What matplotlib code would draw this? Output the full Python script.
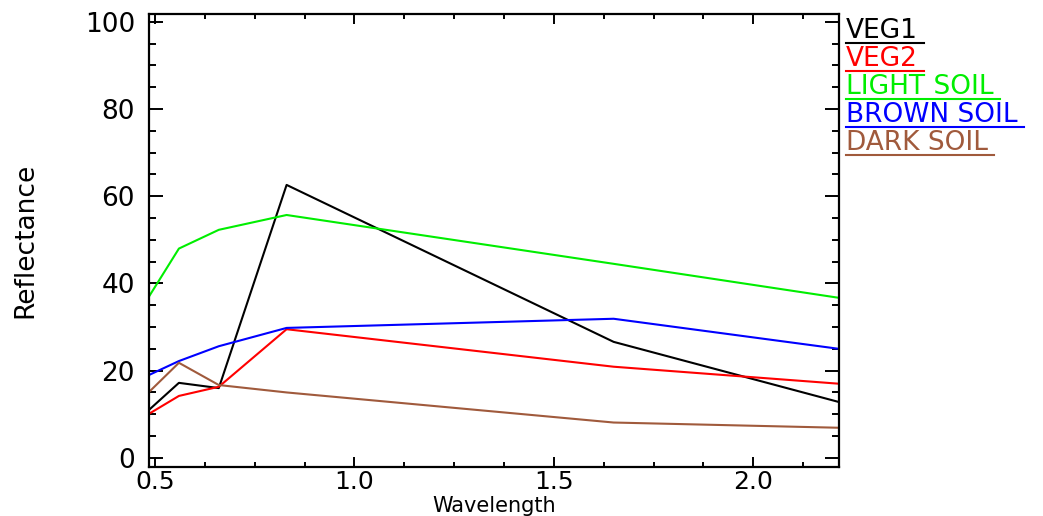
import matplotlib
matplotlib.use('Agg')
import matplotlib.pyplot as plt
from matplotlib.lines import Line2D
from matplotlib.ticker import MultipleLocator

# band centres (micrometres) and reflectance (%)
wavelength = [0.485, 0.56, 0.66, 0.83, 1.65, 2.215]
veg1 = [11.0, 17.2, 16.0, 62.6, 26.6, 12.8]
veg2 = [10.1, 14.2, 16.3, 29.5, 20.9, 17.0]
light_soil = [37.0, 48.0, 52.3, 55.7, 44.5, 36.7]
brown_soil = [19.0, 22.2, 25.6, 29.8, 31.9, 25.0]
dark_soil = [15.1, 21.8, 16.7, 15.0, 8.1, 6.9]

names = ['VEG1', 'VEG2', 'LIGHT SOIL', 'BROWN SOIL', 'DARK SOIL']
colors = ['black', '#ff0000', '#00ee00', '#0000ff', '#a05a3c']

W, H = 1043, 516
FS = 19

plt.rcParams['font.family'] = ['DejaVu Sans']

fig = plt.figure(figsize=(W / 100, H / 100), dpi=100)
ax = fig.add_axes([149 / W, 1 - 467 / H, 690 / W, 453 / H])

series = [veg1, veg2, light_soil, brown_soil, dark_soil]
for vals, col in zip(series, colors):
    ax.plot(wavelength, vals, color=col, lw=1.5)

ax.set_xlim(0.485, 2.215)
ax.set_ylim(-2.1, 101.8)
ax.xaxis.set_major_locator(MultipleLocator(0.5))
ax.xaxis.set_minor_locator(MultipleLocator(0.125))
ax.yaxis.set_major_locator(MultipleLocator(20))
ax.yaxis.set_minor_locator(MultipleLocator(5))
ax.xaxis.set_major_formatter(matplotlib.ticker.FormatStrFormatter('%.1f'))

for s in ax.spines.values():
    s.set_linewidth(1.6)
ax.tick_params(which='both', direction='in', top=True, right=True,
               labelsize=FS, width=1.4)
ax.tick_params(axis='x', which='major', length=7, pad=2, labelsize=18)
ax.tick_params(axis='x', which='minor', length=3.5)
ax.tick_params(axis='y', which='major', length=10, pad=10)
ax.tick_params(axis='y', which='minor', length=5)

ax.set_xlabel('Wavelength', fontsize=15)
ax.xaxis.set_label_coords(0.5, -0.064)
ax.set_ylabel('Reflectance', fontsize=FS)
ax.yaxis.set_label_coords(-0.16, 0.5)

# legend: coloured names with an underline, to the right of the plot
renderer = fig.canvas.get_renderer()
for i, (name, col) in enumerate(zip(names, colors)):
    base = 38 + 28 * i
    t = fig.text(846 / W, 1 - base / H, name, color=col, fontsize=FS,
                 va='baseline', ha='left')
    bb = t.get_window_extent(renderer)
    yl = 1 - (base + 5) / H
    fig.add_artist(Line2D([bb.x0 / W, (bb.x1 + 6) / W], [yl, yl],
                          color=col, lw=1.5, transform=fig.transFigure))

fig.savefig('out.png', dpi=100)
